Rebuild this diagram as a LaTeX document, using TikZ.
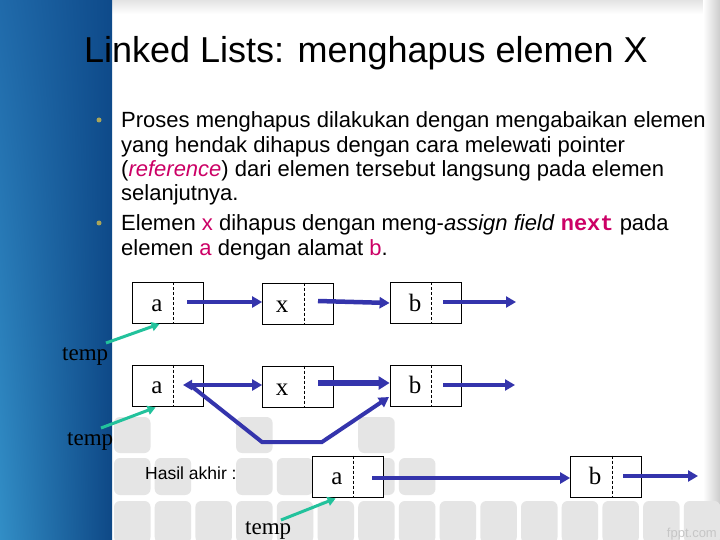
\documentclass[tikz,border=0pt]{standalone}
\usepackage{fontspec}
\setmainfont{Liberation Sans}
\newfontfamily\serifF{Liberation Serif}
\newfontfamily\monoF{Liberation Mono}
\usetikzlibrary{arrows.meta,calc,shadings}
\definecolor{ablue}{RGB}{52,52,172}
\definecolor{teal2}{RGB}{34,194,156}
\definecolor{mag}{RGB}{204,0,102}
\definecolor{bull}{RGB}{170,165,90}
\definecolor{sq}{RGB}{229,229,229}
\definecolor{bar1}{RGB}{32,106,170}
\definecolor{bar2}{RGB}{14,74,138}
\definecolor{bar3}{RGB}{50,142,198}
\definecolor{bar4}{RGB}{14,72,134}
\begin{document}
\begin{tikzpicture}[x=1pt,y=-1pt,
  cell/.style={draw=black, line width=0.8pt, fill=white, minimum width=71pt, minimum height=41pt, inner sep=0pt},
  lbl/.style={font=\fontsize{25}{25}\selectfont\serifF, anchor=base, inner sep=0pt},
  tmp/.style={font=\fontsize{23}{23}\selectfont\serifF, anchor=base west, inner sep=0pt},
  ptr/.style={draw=ablue, line width=4pt, -{Triangle[length=10pt,width=11pt]}},
  tptr/.style={draw=teal2, line width=3pt, -{Triangle[length=8pt,width=9pt]}},
  btxt/.style={font=\fontsize{22}{25}\selectfont, anchor=base west, inner sep=0pt},
  divl/.style={line width=0.7pt, dash pattern=on 3pt off 2pt},
  tile/.style={fill=sq, rounded corners=6pt},
  dot/.style={circle, fill=bull, inner sep=0pt, minimum size=5pt}
]
\useasboundingbox (0,0) rectangle (720,540);
% background
\fill[white] (0,0) rectangle (720,540);
\shade[top color=gray!22, bottom color=white] (112,0) rectangle (720,14);
\shade[left color=white, right color=gray!40] (703,0) rectangle (720,540);
\shade[upper left=bar1, upper right=bar2, lower left=bar3, lower right=bar4] (0,0) rectangle (112,540);
% tiles
\foreach \k in {0,3,6} \fill[tile] (114+40.7*\k,417) rectangle ++(36.5,36);
\foreach \k in {0,1,3,4,5,6,7} \fill[tile] (114+40.7*\k,458) rectangle ++(36.5,37);
\foreach \k in {0,...,14} \fill[tile] (114+40.7*\k,501) rectangle ++(36.5,42);

% title
\node[font=\fontsize{36}{36}\selectfont, anchor=base, inner sep=0pt] (title) at (366,62.5) {Linked Lists: menghapus elemen X};

% bullets
\node[dot] (d1) at (99,120) {};
\node[dot] (d2) at (99,223) {};
\node[btxt] (l1) at (121,128) {Proses menghapus dilakukan dengan mengabaikan elemen};
\node[btxt] (l2) at (121,153) {yang hendak dihapus dengan cara melewati pointer};
\node[btxt] (l3) at (121,177) {(\textcolor{mag}{\itshape reference}) dari elemen tersebut langsung pada elemen};
\node[btxt] (l4) at (121,201) {selanjutnya.};
\node[btxt] (l5) at (121,230) {Elemen \textcolor{mag}{x} dihapus dengan meng-\textit{assign field} \textcolor{mag}{\monoF\bfseries next} pada};
\node[btxt] (l6) at (121,255) {elemen \textcolor{mag}{a} dengan alamat \textcolor{mag}{b}.};

% row 1
\node[cell] (a1) at (167.5,303) {};
\node[cell] (x1) at (298,303.5) {};
\node[cell] (b1) at (425.5,303) {};
\foreach \n in {a1,x1,b1}
  \draw[divl] ($(\n.north west)+(42,0)$) -- ($(\n.south west)+(42,0)$);
\node[lbl] (a1t) at (157,311) {a};
\node[lbl] (x1t) at (282,312) {x};
\node[lbl] (b1t) at (415,311) {b};

% row 2
\node[cell] (a2) at (167.5,385.5) {};
\node[cell] (x2) at (298,386.5) {};
\node[cell] (b2) at (425.5,385.5) {};
\foreach \n in {a2,x2,b2}
  \draw[divl] ($(\n.north west)+(42,0)$) -- ($(\n.south west)+(42,0)$);
\node[lbl] (a2t) at (157,393) {a};
\node[lbl] (x2t) at (282,395) {x};
\node[lbl] (b2t) at (415,393) {b};

% row 3
\node[font=\fontsize{17.5}{17.5}\selectfont, anchor=base west, inner sep=0pt] (hasil) at (145,479) {Hasil akhir :};
\node[cell] (a3) at (347.5,476.5) {};
\node[cell] (b3) at (606,476.5) {};
\foreach \n in {a3,b3}
  \draw[divl] ($(\n.north west)+(42,0)$) -- ($(\n.south west)+(42,0)$);
\node[lbl] (a3t) at (337,484) {a};
\node[lbl] (b3t) at (595,484) {b};

% temp labels
\node[tmp] (t1) at (62,360) {temp};
\node[tmp] (t2) at (67,445) {temp};
\node[tmp] (t3) at (245,534) {temp};

% pointer origins
\coordinate (a1o) at (187,302);
\coordinate (x1o) at (318,301);
\coordinate (b1o) at (443,302);
\coordinate (b1e) at (516,302);
\coordinate (a2o) at (183,385);
\coordinate (a2s) at (190,385);
\coordinate (x2o) at (318,383);
\coordinate (b2o) at (443,385);
\coordinate (b2e) at (515,385);
\coordinate (bend1) at (262,442);
\coordinate (bend2) at (322,442);
\coordinate (b2in) at (389,397);
\coordinate (a3o) at (372,478);
\coordinate (b3o) at (623,476);
\coordinate (b3e) at (698,476);
\coordinate (t1o) at (106,343);
\coordinate (t2o) at (101,428);
\coordinate (t3o) at (281,520);

% row 1 arrows
\draw[ptr] (a1o) -- (a1o -| x1.west);
\draw[ptr, line width=4.5pt] (x1o) -- (b1.west);
\draw[ptr] (b1o) -- (b1e);
% row 2 arrows
\draw[ptr, line join=miter] (a2s) -- (bend1) -- (bend2) -- (b2in);
\draw[ptr, {Triangle[length=9pt,width=10pt]}-{Triangle[length=10pt,width=11pt]}] (a2o) -- (a2o -| x2.west);
\draw[ptr, line width=6pt, -{Triangle[length=11pt,width=13pt]}] (x2o) -- (x2o -| b2.west);
\draw[ptr] (b2o) -- (b2e);
% row 3 arrows
\draw[ptr] (a3o) -- (a3o -| b3.west);
\draw[ptr] (b3o) -- (b3e);
% temp arrows
\draw[tptr] (t1o) -- ($(a1.south west)+(28,0)$);
\draw[tptr] (t2o) -- ($(a2.south west)+(24,1)$);
\draw[tptr] (t3o) -- ($(a3.south west)+(24,1)$);

\node[font=\fontsize{13}{13}\selectfont, text=gray!45, anchor=base east, inner sep=0pt] (fppt) at (717,537) {fppt.com};
\end{tikzpicture}
\end{document}
